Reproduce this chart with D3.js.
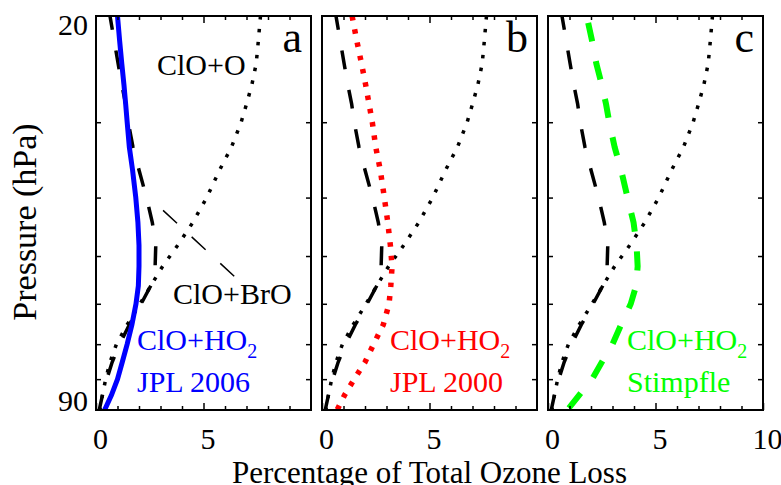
<!DOCTYPE html>
<html>
<head>
<meta charset="utf-8">
<script src="https://cdn.jsdelivr.net/npm/d3@7"></script>
</head>
<body style="margin:0">
<div id="chart"></div>
<script>
// pressure levels (hPa) shared by every profile
const pressure = [20, 22, 24, 26, 28, 30, 33, 36, 40, 44, 48, 52, 56, 60, 65, 70, 75, 80, 85, 90];
// black dashed profile (ClO+ClO), same in all panels
const cloClo = [0.65, 0.85, 1.03, 1.2, 1.38, 1.5, 1.72, 2.0, 2.35, 2.62, 2.78, 2.75, 2.55, 2.1, 1.55, 1.1, 0.75, 0.5, 0.3, 0.15];
// black dotted profile (ClO+O)
const cloO = [7.65, 7.55, 7.45, 7.25, 7.0, 6.75, 6.3, 5.75, 5.15, 4.5, 3.8, 3.1, 2.55, 2.05, 1.45, 0.95, 0.65, 0.45, 0.3, 0.18];
// ClO+HO2 variants
const hoJpl2006 = [1.0, 1.1, 1.2, 1.3, 1.38, 1.45, 1.55, 1.7, 1.85, 1.95, 2.0, 2.0, 1.97, 1.86, 1.67, 1.45, 1.22, 1.0, 0.72, 0.4];
const hoJpl2000 = [1.4, 1.62, 1.84, 2.03, 2.19, 2.34, 2.5, 2.71, 2.9, 3.06, 3.18, 3.26, 3.2, 3.12, 2.85, 2.4, 2.0, 1.5, 1.05, 0.7];
const hoStimpfle = [1.8, 2.05, 2.25, 2.5, 2.7, 2.85, 3.1, 3.4, 3.7, 3.98, 4.12, 4.17, 4.1, 3.85, 3.4, 3.0, 2.5, 2.05, 1.45, 0.9];

const panelLetters = ["a", "b", "c"];
const hoNames = ["JPL 2006", "JPL 2000", "Stimpfle"];
const hoColors = ["#0000ff", "#ff0000", "#00ff00"];
const xLabelTicks = [[0, 5], [0, 5], [0, 5, 10]];
const yLabelTicks = [20, 90];
const yMinorTicks = [30, 40, 50, 60, 70, 80];
// leader line for ClO+BrO label, in data units [x, hPa]
const broPointer = [[3.12, 42], [6.47, 54.2]];

const width = 781, height = 485;
const margin = { top: 16, left: 96, bottom: 75 };
const panelW = 215, panelGap = 11;
const plotBottom = height - margin.bottom;
const FONT = "Liberation Serif";

const svg = d3.select("#chart").append("svg")
  .attr("width", width)
  .attr("height", height)
  .style("font-family", FONT);

const x = d3.scaleLinear().domain([0, 10]).range([0, panelW]);
const y = d3.scaleLog().domain([20, 90]).range([margin.top, plotBottom]);

const line = d3.line()
  .x(d => x(d[0]))
  .y(d => y(d[1]));

// plain text helper, serif set inline
function label(parent, tx, ty, size, str) {
  return parent.append("text")
    .style("font-family", FONT)
    .attr("x", tx).attr("y", ty)
    .attr("font-size", size)
    .text(str);
}

const profiles = [hoJpl2006, hoJpl2000, hoStimpfle];
const styles = [
  { width: 5, dash: null, offset: 0 },
  { width: 5.5, dash: "4.5,9", offset: 0 },
  { width: 6, dash: "19,20", offset: 32 }
];

panelLetters.forEach((letter, i) => {
  const left = margin.left + i * (panelW + panelGap);
  const g = svg.append("g").attr("transform", `translate(${left},0)`);

  // clip
  g.append("clipPath").attr("id", "clip" + i)
    .append("rect")
    .attr("x", 0).attr("y", margin.top)
    .attr("width", panelW).attr("height", plotBottom - margin.top);

  const plot = g.append("g").attr("clip-path", `url(#clip${i})`);

  // dotted ClO+O
  plot.append("path")
    .datum(pressure.map((p, k) => [cloO[k], p]))
    .attr("d", line)
    .attr("fill", "none")
    .attr("stroke", "#000")
    .attr("stroke-width", 3.5)
    .attr("stroke-dasharray", "3.5,9.5");

  // dashed ClO+ClO
  plot.append("path")
    .datum(pressure.map((p, k) => [cloClo[k], p]))
    .attr("d", line)
    .attr("fill", "none")
    .attr("stroke", "#000")
    .attr("stroke-width", 3.5)
    .attr("stroke-dasharray", "19,21")
    .attr("stroke-dashoffset", 5);

  // ClO+HO2
  const st = styles[i];
  plot.append("path")
    .datum(pressure.map((p, k) => [profiles[i][k], p]))
    .attr("d", line)
    .attr("fill", "none")
    .attr("stroke", hoColors[i])
    .attr("stroke-width", st.width)
    .attr("stroke-dasharray", st.dash)
    .attr("stroke-dashoffset", st.offset);

  // x minor ticks (bottom + top)
  const minor = d3.range(1, 10).filter(v => v !== 5);
  g.append("g")
    .attr("transform", `translate(0,${plotBottom})`)
    .call(d3.axisBottom(x).tickValues(minor).tickSize(-4).tickFormat(""))
    .call(a => a.select(".domain").remove());
  g.append("g")
    .attr("transform", `translate(0,${margin.top})`)
    .call(d3.axisTop(x).tickValues(minor).tickSize(-4).tickFormat(""))
    .call(a => a.select(".domain").remove());
  g.append("g")
    .attr("transform", `translate(0,${margin.top})`)
    .call(d3.axisTop(x).tickValues([5]).tickSize(-7).tickFormat(""))
    .call(a => a.select(".domain").remove());

  // x major ticks + labels
  const xa = g.append("g")
    .attr("transform", `translate(0,${plotBottom})`)
    .call(d3.axisBottom(x).tickValues(xLabelTicks[i]).tickSize(-7).tickPadding(17.7).tickFormat(d3.format("d")))
    .call(a => a.select(".domain").remove())
    .attr("font-family", FONT)
    .style("font-family", FONT);
  xa.selectAll("text")
    .style("font-family", FONT)
    .attr("font-size", "30px")
    .attr("fill", "#000")
    .attr("dx", 4);

  // y ticks (left + right, inward)
  g.append("g")
    .call(d3.axisLeft(y).tickValues(yMinorTicks).tickSize(-5).tickFormat(""))
    .call(a => a.select(".domain").remove());
  g.append("g")
    .attr("transform", `translate(${panelW},0)`)
    .call(d3.axisRight(y).tickValues(yMinorTicks).tickSize(-5).tickFormat(""))
    .call(a => a.select(".domain").remove());

  g.selectAll(".tick line").attr("stroke", "#000").attr("stroke-width", 1.5);

  if (i === 0) {
    const ya = g.append("g")
      .call(d3.axisLeft(y).tickValues(yLabelTicks).tickSize(0).tickPadding(8).tickFormat(d3.format("d")))
      .call(a => a.select(".domain").remove())
      .attr("font-family", FONT)
      .style("font-family", FONT);
    ya.selectAll("text")
      .style("font-family", FONT)
      .attr("font-size", "30px")
      .attr("fill", "#000")
      .attr("dy", d => d === 20 ? "0.63em" : "0em");

    // ClO+O label
    label(g, 61, 75, "30px", "ClO+O");

    // ClO+BrO label with pointer
    g.append("path")
      .datum(broPointer)
      .attr("d", line)
      .attr("fill", "none")
      .attr("stroke", "#000")
      .attr("stroke-width", 1.5)
      .attr("stroke-dasharray", "19,20");
    label(g, 77, 304, "30px", "ClO+BrO");
  }

  // ClO+HO2 label
  const lx = [41, 68, 79][i];
  const t = label(g, lx, 350, "30px", null).attr("fill", hoColors[i]);
  t.append("tspan").text("ClO+HO");
  t.append("tspan").attr("font-size", "20px").attr("dy", 8).text("2");
  label(g, lx, 392, "30px", hoNames[i]).attr("fill", hoColors[i]);

  // panel letter
  label(g, panelW - 9, 52, "44px", letter).attr("text-anchor", "end");

  // frame
  g.append("rect")
    .attr("x", 0).attr("y", margin.top)
    .attr("width", panelW).attr("height", plotBottom - margin.top)
    .attr("fill", "none")
    .attr("stroke", "#000")
    .attr("stroke-width", 2);
});

// x title
label(svg, margin.left + (3 * panelW + 2 * panelGap) / 2, 483, "31px", "Percentage of Total Ozone Loss")
  .attr("text-anchor", "middle");

// y title
label(svg, 0, 0, "34px", "Pressure (hPa)")
  .attr("transform", "translate(36,222) rotate(-90)")
  .attr("text-anchor", "middle");
</script>
</body>
</html>
